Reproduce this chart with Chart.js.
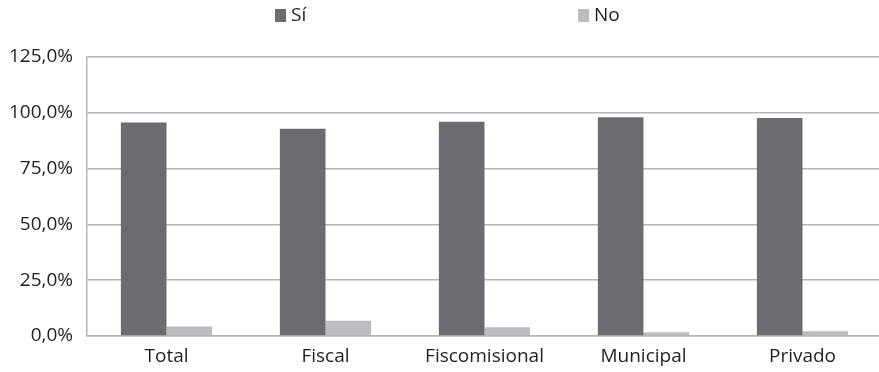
<!DOCTYPE html>
<html lang="es">
<head>
<meta charset="utf-8">
<title>Sí / No por tipo de sostenimiento</title>
<script src="https://cdn.jsdelivr.net/npm/chart.js@4/dist/chart.umd.min.js"></script>
<style>
  html, body { margin: 0; padding: 0; background: #ffffff; overflow: hidden; }
  #wrap { width: 879px; height: 372px; overflow: hidden; }
  canvas { display: block; }
</style>
</head>
<body>
<div id="wrap"><canvas id="chart" width="884" height="372"></canvas></div>
<script>
// Categories and series (percent)
const categories = ['Total', 'Fiscal', 'Fiscomisional', 'Municipal', 'Privado'];
const siValues = [95.7, 92.8, 96.0, 98.0, 97.7];
const noValues = [4.3, 6.8, 3.9, 1.7, 2.1];
const seriesNames = ['Sí', 'No'];
const yTicks = [0, 25, 50, 75, 100, 125];

const FONT = '"Open Sans", "Noto Sans", sans-serif';
const TEXT = '#231f20';
const GRID = '#b3b4b6';
const COLORS = ['#6b6c70', '#bcbdc1'];

// Legend drawn on the canvas: square marker + label, at set positions across the plot width
const spacedLegend = {
  id: 'spacedLegend',
  afterDraw(chart, args, opts) {
    const { ctx, chartArea } = chart;
    const w = chartArea.right - chartArea.left;
    ctx.save();
    ctx.font = opts.font;
    ctx.textBaseline = 'middle';
    ctx.textAlign = 'left';
    chart.data.datasets.forEach((ds, i) => {
      const x = Math.round(chartArea.left + opts.starts[i] * w);
      ctx.fillStyle = ds.backgroundColor;
      ctx.fillRect(x, opts.boxTop, opts.boxW, opts.boxH);
      ctx.fillStyle = opts.color;
      ctx.fillText(ds.label, x + opts.boxW + opts.gap, opts.textY);
    });
    ctx.restore();
  }
};

new Chart(document.getElementById('chart'), {
  type: 'bar',
  data: {
    labels: categories,
    datasets: [
      { label: seriesNames[0], data: siValues, backgroundColor: COLORS[0] },
      { label: seriesNames[1], data: noValues, backgroundColor: COLORS[1] }
    ]
  },
  options: {
    responsive: false,
    animation: false,
    devicePixelRatio: 1,
    layout: { padding: { top: 57, right: 2, left: 0, bottom: 0 } },
    datasets: { bar: { categoryPercentage: 0.574, barPercentage: 1.0, borderWidth: 0 } },
    plugins: {
      legend: { display: false },
      tooltip: { enabled: false },
      spacedLegend: {
        starts: [0.2365, 0.617],
        boxW: 11, boxH: 13, boxTop: 9, gap: 5, textY: 16,
        font: '19px ' + FONT,
        color: TEXT
      }
    },
    scales: {
      x: {
        grid: { display: false, drawTicks: false },
        border: { display: true, color: GRID, width: 1.5 },
        ticks: { color: TEXT, font: { family: FONT, size: 19 }, padding: 9, maxRotation: 0 },
        afterFit(scale) { scale.height = 36; }
      },
      y: {
        min: 0,
        max: 125,
        afterBuildTicks(scale) { scale.ticks = yTicks.map(v => ({ value: v })); },
        grid: { color: GRID, lineWidth: 1.5, drawTicks: false },
        border: { display: true, color: GRID, width: 1.5 },
        ticks: {
          color: TEXT,
          font: { family: FONT, size: 19 },
          padding: 14,
          callback: v => v.toFixed(1).replace('.', ',') + '%'
        },
        afterFit(scale) { scale.width = 87; }
      }
    }
  },
  plugins: [spacedLegend]
});
</script>
</body>
</html>
